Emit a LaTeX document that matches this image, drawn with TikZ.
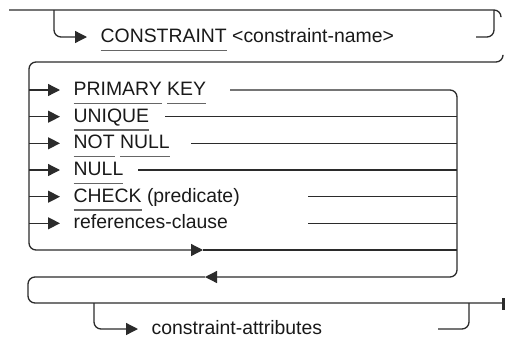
\documentclass[tikz,border=0pt]{standalone}
\usepackage{fontspec}
\setmainfont{Liberation Sans}
\usetikzlibrary{arrows.meta,positioning}

\definecolor{rail}{HTML}{2B2B2B}
\definecolor{ulgray}{HTML}{666666}

% keyword with the low underline of the syntax charts
\newsavebox\kwbox
\newcommand\kw[1]{\sbox\kwbox{#1}\rlap{\color{ulgray}\rule[-8.3pt]{\wd\kwbox}{1.2pt}}\usebox\kwbox}

\tikzset{
  rr/.style={draw=rail, line width=1.3pt, rounded corners=7pt},
  go/.style={rr, -{Triangle[length=12pt,width=12pt]}},
  lbl/.style={inner sep=0pt, text height=16pt, text depth=5pt, text=black!90,
    font=\fontsize{19.4}{22}\selectfont, right=13.5pt of #1},
}

\begin{document}
\begin{tikzpicture}[x=1pt, y=-1pt]
\useasboundingbox (0,0) rectangle (505,343);

% first line: optional constraint name
\coordinate (start) at (9,10);
\coordinate (wrapout) at (501,16);
\coordinate (brA) at (54,10);
\coordinate (brB) at (494,10);
\coordinate (consin) at (87,37);
\coordinate (consout) at (476,37);
\draw [rr] (start) -- (wrapout |- start) -- (wrapout);
\draw [go] (brA) |- (consin);
\node[lbl=consin] (cons) {\kw{CONSTRAINT} <constraint-name>};
\draw [rr] (consout) -| (brB);

% the choice box
\coordinate (wrapin) at (503,56);
\coordinate (boxtl) at (29,62);
\coordinate (boxbl) at (29,250);
\coordinate (boxbr) at (457,250);
\coordinate (byin) at (203,250);
\coordinate (retin) at (205,277);

\coordinate (pkin) at (60,90);
\coordinate (uqin) at (60,116.7);
\coordinate (nnin) at (60,143.3);
\coordinate (nlin) at (60,170);
\coordinate (ckin) at (60,196.7);
\coordinate (rcin) at (60,223.3);

\coordinate (pkout) at (230,90);
\coordinate (uqout) at (165,116.7);
\coordinate (nnout) at (191,143.3);
\coordinate (nlout) at (138,170);
\coordinate (ckout) at (308,196.7);
\coordinate (rcout) at (308,223.3);

\draw [go] (wrapin) |- (boxtl) -- (boxbl) -- (byin);
\draw [rr] (byin) -- (boxbr);

\draw [go] (pkin -| boxtl) -- (pkin);
\node[lbl=pkin] (pk) {\kw{PRIMARY} \kw{KEY}};
\draw [go] (uqin -| boxtl) -- (uqin);
\node[lbl=uqin] (uq) {\kw{UNIQUE}};
\draw [go] (nnin -| boxtl) -- (nnin);
\node[lbl=nnin] (nn) {\kw{NOT} \kw{NULL}};
\draw [go] (nlin -| boxtl) -- (nlin);
\node[lbl=nlin] (nl) {\kw{NULL}};
\draw [go] (ckin -| boxtl) -- (ckin);
\node[lbl=ckin] (ck) {\kw{CHECK} (predicate)};
\draw [go] (rcin -| boxtl) -- (rcin);
\node[lbl=rcin] (rc) {references-clause};

\draw [go] (pkout) -- (pkout -| boxbr) -- (boxbr |- retin) -- (retin);
\draw [rr] (uqout) -- (uqout -| boxbr);
\draw [rr] (nnout) -- (nnout -| boxbr);
\draw [rr] (nlout) -- (nlout -| boxbr);
\draw [rr] (ckout) -- (ckout -| boxbr);
\draw [rr] (rcout) -- (rcout -| boxbr);

% last line: optional attributes
\coordinate (mainl) at (28,303);
\coordinate (stop) at (503,303);
\coordinate (brC) at (94,303);
\coordinate (brD) at (469,303);
\coordinate (attrin) at (138,329);
\coordinate (attrout) at (438,329);
\draw [rr] (retin) -- (retin -| mainl) -- (mainl) -- (stop);
\fill [rail] (501.5,297.5) rectangle (504.5,309.5);
\draw [go] (brC) |- (attrin);
\node[lbl=attrin] (attr) {constraint-attributes};
\draw [rr] (attrout) -| (brD);
\end{tikzpicture}
\end{document}
